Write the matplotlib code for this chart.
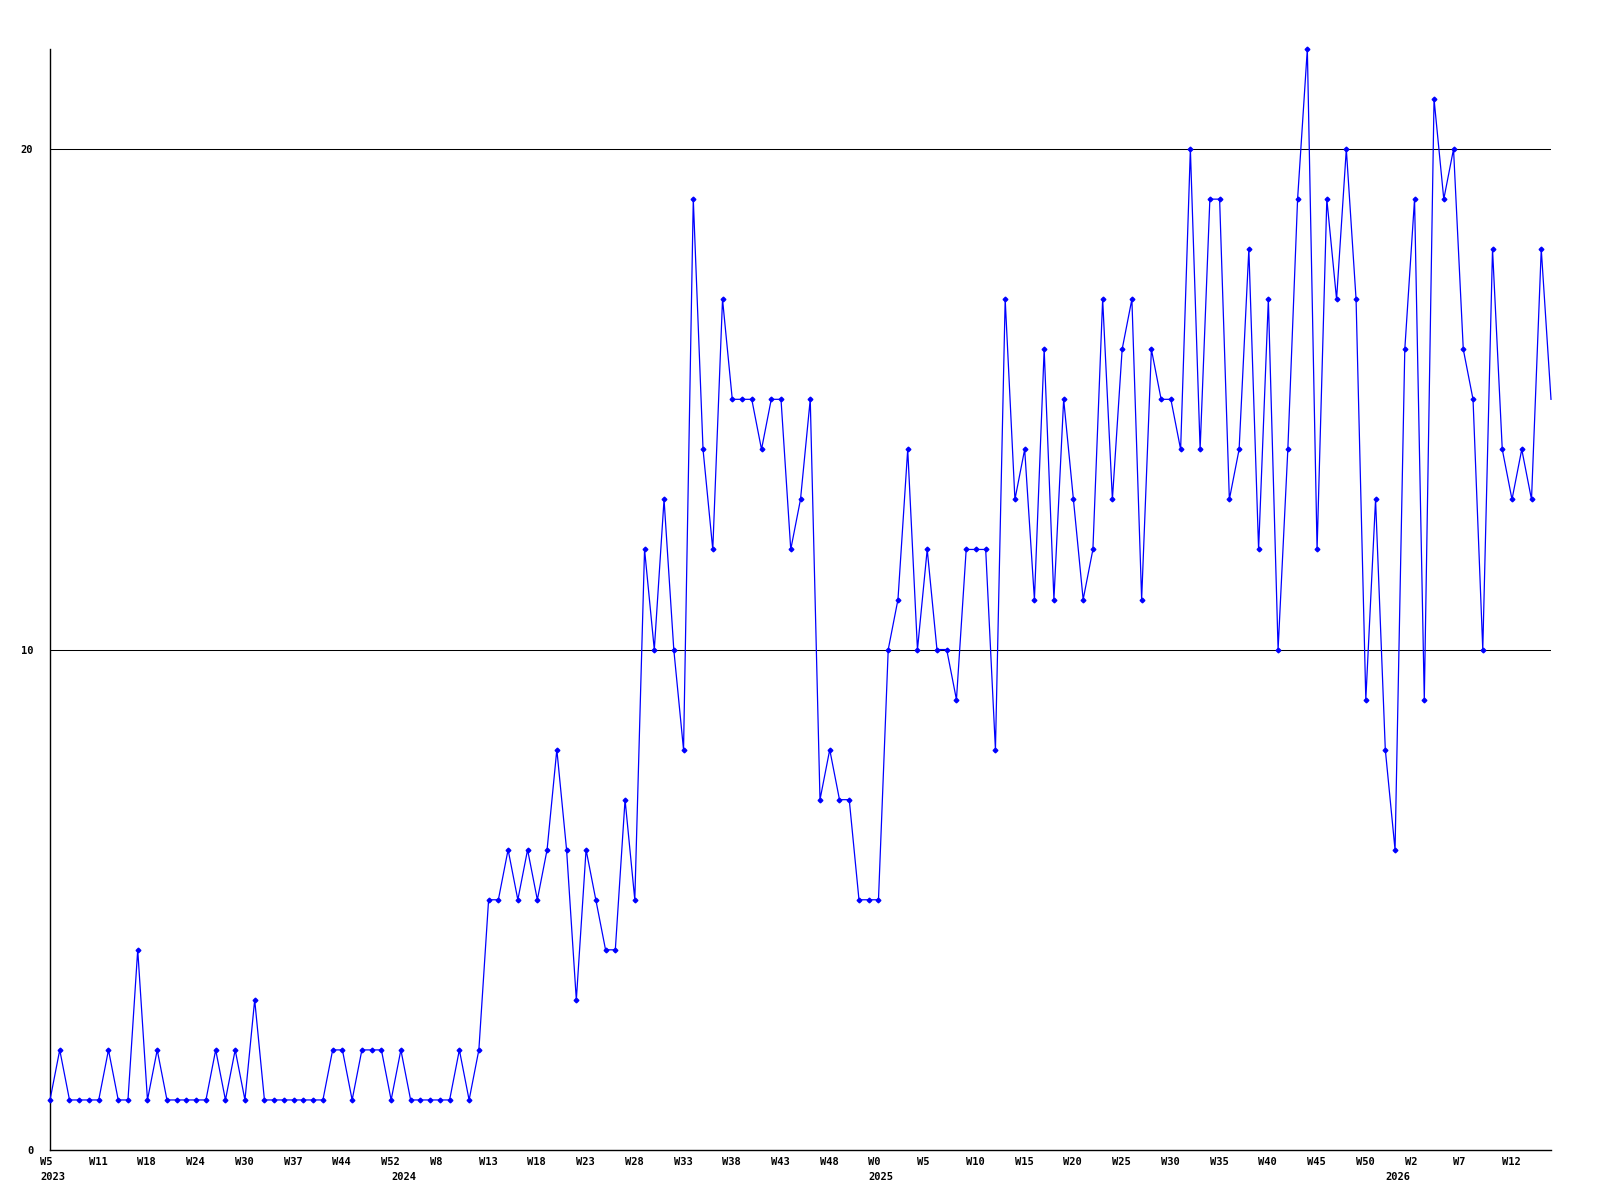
import matplotlib
matplotlib.use('Agg')
import matplotlib.pyplot as plt
from matplotlib.transforms import offset_copy

# weekly counts
values = [1, 2, 1, 1, 1, 1, 2, 1, 1, 4, 1, 2, 1, 1, 1, 1, 1, 2, 1, 2, 1,
          3, 1, 1, 1, 1, 1, 1, 1, 2, 2, 1, 2, 2, 2, 1, 2, 1, 1, 1, 1, 1,
          2, 1, 2, 5, 5, 6, 5, 6, 5, 6, 8, 6, 3, 6, 5, 4, 4, 7, 5,
          12, 10, 13, 10, 8, 19, 14, 12, 17, 15, 15, 15, 14, 15, 15, 12, 13, 15, 7, 8, 7,
          7, 5, 5, 5, 10, 11, 14, 10, 12, 10, 10, 9, 12, 12, 12, 8, 17, 13, 14, 11,
          16, 11, 15, 13, 11, 12, 17, 13, 16, 17, 11, 16, 15, 15, 14, 20, 14, 19, 19,
          13, 14, 18, 12, 17, 10, 14, 19, 22, 12, 19, 17, 20, 17, 9, 13, 8, 6,
          16, 19, 9, 21, 19, 20, 16, 15, 10, 18, 14, 13, 14, 13, 18, 15]

week_labels = ['W5', 'W11', 'W18', 'W24', 'W30', 'W37', 'W44', 'W52', 'W8', 'W13',
               'W18', 'W23', 'W28', 'W33', 'W38', 'W43', 'W48', 'W0', 'W5', 'W10',
               'W15', 'W20', 'W25', 'W30', 'W35', 'W40', 'W45', 'W50', 'W2', 'W7', 'W12']
label_step = 5

years = ['2023', '2024', '2025', '2026']
year_index = [0, 36, 85, 138]

y_ticks = [0, 10, 20]

fig = plt.figure(figsize=(16, 12), dpi=100)
ax = fig.add_axes([50 / 1600, 50 / 1200, 1501 / 1600, 1101 / 1200])

x = list(range(len(values)))
# the last (still open) week has no marker in the original
ax.plot(x, values, color='#0000ff', linewidth=0.9, marker='D', markersize=2.4,
        markerfacecolor='#0000ff', markeredgecolor='#0000ff',
        markevery=list(range(len(values) - 1)), clip_on=False, zorder=3)

ax.set_xlim(0, len(values) - 1)
ax.set_ylim(0, 22)

for t in y_ticks[1:]:
    ax.axhline(t, color='black', linewidth=0.75, zorder=1)

ax.spines['top'].set_visible(False)
ax.spines['right'].set_visible(False)
ax.spines['left'].set_linewidth(1.0)
ax.spines['bottom'].set_linewidth(1.0)

font = dict(family='DejaVu Sans Mono', fontsize=7.5, fontweight='bold')

ax.set_yticks(y_ticks)
ax.set_yticklabels([str(t) for t in y_ticks], **font)
ax.tick_params(axis='y', length=0, pad=12)
ax.set_xticks([])

trans = ax.get_xaxis_transform()
wk_trans = offset_copy(trans, fig=fig, x=-10, y=-12, units='dots')
yr_trans = offset_copy(trans, fig=fig, x=-10, y=-27, units='dots')

for k, lab in enumerate(week_labels):
    ax.text(k * label_step, 0, lab, transform=wk_trans, ha='left', va='center', **font)

for yr, idx in zip(years, year_index):
    ax.text(idx, 0, yr, transform=yr_trans, ha='left', va='center', **font)

fig.set_facecolor('white')
plt.savefig('out.png', dpi=100)
plt.close()
